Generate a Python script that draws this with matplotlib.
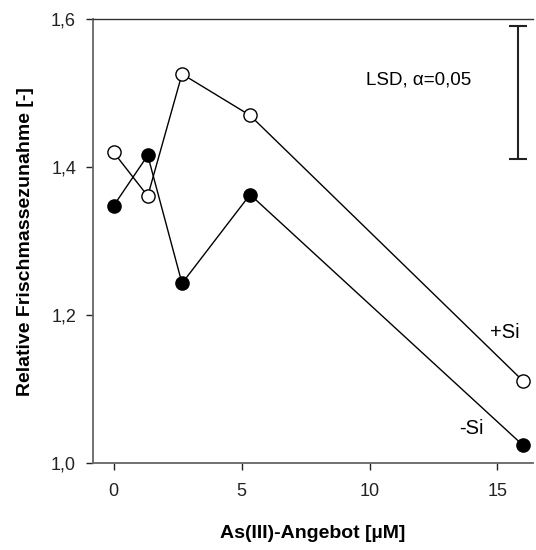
import matplotlib.pyplot as plt

plt.rcParams['font.family'] = ['Liberation Sans', 'DejaVu Sans']

# As(III) supply [uM]
conc = [0, 1.33, 2.67, 5.33, 16]
plus_si = [1.420, 1.361, 1.526, 1.470, 1.111]
minus_si = [1.348, 1.416, 1.243, 1.363, 1.024]

xtick_vals = [0, 5, 10, 15]
ytick_vals = [1.0, 1.2, 1.4, 1.6]
ytick_labels = ['1,0', '1,2', '1,4', '1,6']

# LSD bar
lsd_x = 15.79
lsd_lo, lsd_hi = 1.411, 1.591

fig = plt.figure(figsize=(5.36, 5.5), dpi=100)
ax = fig.add_axes([0.173, 0.158, 0.822, 0.807])

ax.plot(conc, plus_si, color='black', lw=1, marker='o', ms=9.5,
        mfc='white', mec='black', mew=1, zorder=3)
ax.plot(conc, minus_si, color='black', lw=1, marker='o', ms=9.5,
        mfc='black', mec='black', mew=1, zorder=3)

ax.errorbar([lsd_x], [(lsd_lo + lsd_hi) / 2], yerr=[(lsd_hi - lsd_lo) / 2],
            fmt='none', ecolor='#222222', elinewidth=1.5, capsize=6.4, capthick=1.5)

ax.text(11.9, 1.518, 'LSD, \u03b1=0,05', fontsize=13.5, ha='center', va='center')
ax.text(15.28, 1.177, '+Si', fontsize=14.5, ha='center', va='center')
ax.text(13.96, 1.047, '-Si', fontsize=14.5, ha='center', va='center')

ax.set_xlim(-0.82, 16.4)
ax.set_ylim(1.0, 1.6)
ax.set_xticks(xtick_vals)
ax.set_yticks(ytick_vals)
ax.set_yticklabels(ytick_labels)
ax.tick_params(direction='out', length=5, width=1, labelsize=13, colors='#222222')
ax.tick_params(axis='x', pad=9)
ax.tick_params(axis='y', pad=7)

ax.spines['right'].set_visible(False)
for s in ['left', 'bottom']:
    ax.spines[s].set_color('#666666')
    ax.spines[s].set_linewidth(1.3)
ax.spines['top'].set_color('#333333')
ax.spines['top'].set_linewidth(1)

ax.set_xlabel('As(III)-Angebot [\u00b5M]', fontsize=14, fontweight='bold', labelpad=18)
ax.set_ylabel('Relative Frischmassezunahme [-]', fontsize=14, fontweight='bold', labelpad=12)

fig.savefig('out.png', dpi=100)
